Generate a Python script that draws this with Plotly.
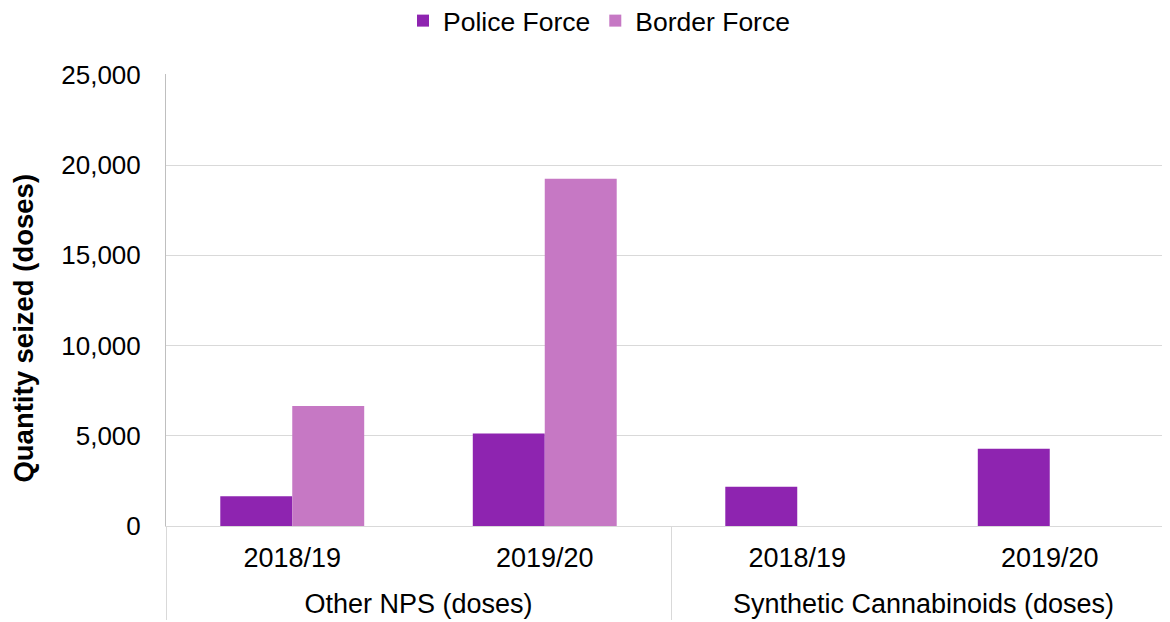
import plotly.graph_objects as go

groups = ["Other NPS (doses)", "Other NPS (doses)", "Synthetic Cannabinoids (doses)", "Synthetic Cannabinoids (doses)"]
years = ["2018/19", "2019/20", "2018/19", "2019/20"]
police = [1650, 5130, 2170, 4280]
border = [6650, 19250, 0, 0]

# shift the group row further below the year row
group_labels = ["<span style='baseline-shift:-22px'>" + g + "</span>" for g in groups]

fig = go.Figure()
fig.add_trace(go.Bar(x=[group_labels, years], y=police, name="Police Force", marker_color="#8E24B0",
                     marker_line_width=0))
fig.add_trace(go.Bar(x=[group_labels, years], y=border, name="Border Force", marker_color="#C678C4",
                     marker_line_width=0))

fig.update_layout(
    width=1168, height=614,
    barmode="group", bargap=0.43, bargroupgap=0,
    plot_bgcolor="white", paper_bgcolor="white",
    font=dict(family="Liberation Sans, Arial, sans-serif", size=26, color="#000000"),
    margin=dict(l=158, r=0, t=66, b=96),
    legend=dict(orientation="h", xref="container", yref="container", x=0.506, xanchor="center",
                y=0.979, yanchor="middle", font=dict(size=26.5), itemwidth=30,
                traceorder="normal"),
    showlegend=True,
    annotations=[dict(text="<b>Quantity seized (doses)</b>", xref="paper", yref="paper",
                      x=-0.142, y=0.438, xanchor="center", yanchor="middle", textangle=-90,
                      showarrow=False, font=dict(size=27.5))],
)
fig.update_yaxes(range=[0, 25050], tickvals=[0, 5000, 10000, 15000, 20000, 25000],
                 tickformat=",", showgrid=True, gridcolor="#D9D9D9",
                 showline=True, linecolor="#BFBFBF", linewidth=1, ticks="", zeroline=False,
                 ticklabelstandoff=19, tickfont=dict(size=26))
fig.update_xaxes(showline=True, linecolor="#D9D9D9", showdividers=True, dividercolor="#D9D9D9",
                 dividerwidth=1, tickfont=dict(size=27), ticklabelstandoff=8)

fig.write_html("out.html")
